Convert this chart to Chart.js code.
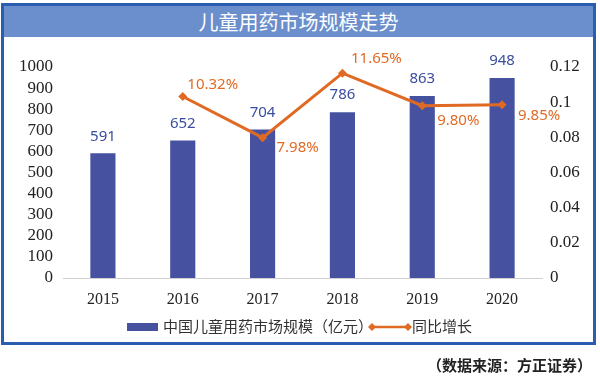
<!DOCTYPE html>
<html><head><meta charset="utf-8">
<script src="https://cdn.jsdelivr.net/npm/chart.js@4.4.1/dist/chart.umd.min.js"></script>
<style>
html,body{margin:0;padding:0;background:#fff;width:600px;height:378px;overflow:hidden;}
#frame{position:absolute;left:1px;top:3px;width:589px;height:336px;border:3px solid #2a5cb0;background:#fff;}
#titlebar{position:absolute;left:0;top:0;width:589px;height:31px;background:#6b8fcc;color:#fff;font-family:"Noto Sans CJK SC";font-size:20px;line-height:31px;text-align:center;}
#c{position:absolute;left:0;top:0;}
#legend{position:absolute;left:0;top:318px;width:600px;height:20px;font-family:"Noto Sans CJK SC";font-size:15px;color:#333;}
#source{position:absolute;right:8px;top:354px;font-family:"Noto Sans CJK SC";font-size:15px;font-weight:bold;color:#222;}
</style></head>
<body>
<div id="frame"><div id="titlebar">儿童用药市场规模走势</div></div>
<canvas id="c" width="600" height="378"></canvas>
<div id="legend">
  <span style="position:absolute;left:127px;top:5px;width:31px;height:8px;background:#4652a0"></span>
  <span style="position:absolute;left:163px;top:-3px;">中国儿童用药市场规模（亿元）</span>
  <svg style="position:absolute;left:368px;top:3px" width="44" height="12"><line x1="4" y1="6" x2="40" y2="6" stroke="#e06a24" stroke-width="2.5"/><polygon points="4,2 8,6 4,10 0,6" fill="#e06a24"/><polygon points="40,2 44,6 40,10 36,6" fill="#e06a24"/></svg>
  <span style="position:absolute;left:412px;top:-3px;">同比增长</span>
</div>
<div id="source">（数据来源：方正证券）</div>
<script>
const categories = ['2015','2016','2017','2018','2019','2020'];
const marketSize = [591, 652, 704, 786, 863, 948];
const growth = [null, 0.1032, 0.0798, 0.1165, 0.0980, 0.0985];
const growthLabels = ['', '10.32%', '7.98%', '11.65%', '9.80%', '9.85%'];
const leftTicks = [0,100,200,300,400,500,600,700,800,900,1000];
const rightTicks = [0,0.02,0.04,0.06,0.08,0.1,0.12];

const lineLabelOffsets = [[0,0],[30,-12],[35,10],[34,-14],[36,15],[37,11]];

const labelPlugin = {
  id: 'vlabels',
  afterDatasetsDraw(chart) {
    const ctx = chart.ctx;
    ctx.save();
    ctx.textAlign = 'center';
    ctx.textBaseline = 'middle';
    ctx.font = '15px "Noto Sans"';
    ctx.fillStyle = '#3a4d9e';
    chart.getDatasetMeta(0).data.forEach((el, i) => {
      ctx.fillText(String(marketSize[i]), el.x, el.y - 17);
    });
    ctx.fillStyle = '#e06a24';
    chart.getDatasetMeta(1).data.forEach((el, i) => {
      if (growth[i] == null) return;
      const o = lineLabelOffsets[i];
      ctx.fillText(growthLabels[i], el.x + o[0], el.y + o[1]);
    });
    ctx.restore();
  }
};

new Chart(document.getElementById('c'), {
  data: {
    labels: categories,
    datasets: [
      {type:'bar', label:'中国儿童用药市场规模（亿元）', data: marketSize, backgroundColor:'#4652a0', yAxisID:'y', categoryPercentage:1, barPercentage:0.315, order:2},
      {type:'line', label:'同比增长', data: growth, borderColor:'#e06a24', backgroundColor:'#e06a24', borderWidth:3, pointStyle:'rectRot', pointRadius:4.5, pointBackgroundColor:'#e06a24', pointBorderWidth:0, tension:0, yAxisID:'y1', order:1, spanGaps:false}
    ]
  },
  options: {
    responsive:false, animation:false, devicePixelRatio:1,
    layout:{padding:{left:8, right:8, top:67, bottom:70}},
    plugins:{legend:{display:false}, tooltip:{enabled:false}, title:{display:false}},
    scales:{
      x:{
        grid:{display:false, drawTicks:false},
        border:{display:true, color:'#d0d0d0', width:1},
        ticks:{padding:12, color:'#222', font:{family:'"Liberation Serif"', size:16}},
        afterFit(s){ s.height = 30; }
      },
      y:{
        position:'left', min:0, max:1000,
        grid:{display:false, drawTicks:false}, border:{display:false},
        afterBuildTicks(s){ s.ticks = leftTicks.map(v=>({value:v})); },
        ticks:{autoSkip:false, padding:10, color:'#222', font:{family:'"Liberation Serif"', size:17}, callback:(v)=>String(v)},
        afterFit(s){ s.width = 55; }
      },
      y1:{
        position:'right', min:0, max:0.12,
        grid:{display:false, drawTicks:false}, border:{display:false},
        afterBuildTicks(s){ s.ticks = rightTicks.map(v=>({value:v})); },
        ticks:{autoSkip:false, padding:8, color:'#222', font:{family:'"Liberation Serif"', size:17}, callback:(v)=>String(+v.toFixed(2))},
        afterFit(s){ s.width = 50; }
      }
    }
  },
  plugins:[labelPlugin]
});
</script>
</body></html>
